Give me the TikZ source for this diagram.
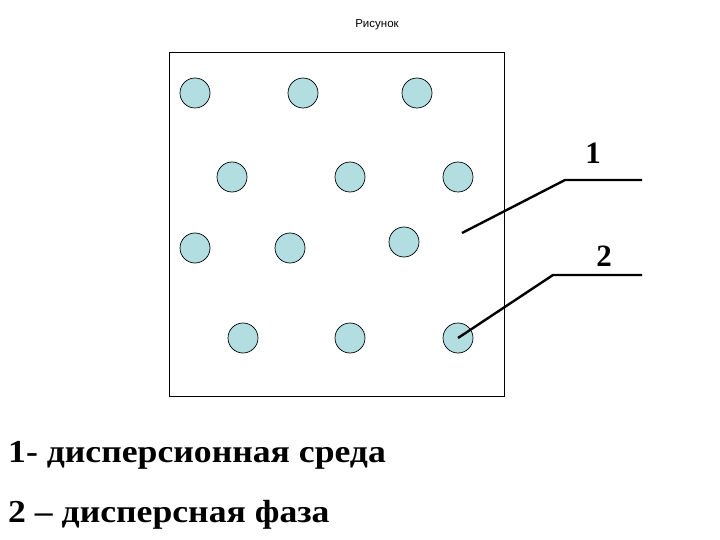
\documentclass[tikz,border=0pt]{standalone}
\usepackage{graphicx}
\usepackage{fontspec}
\setmainfont{Liberation Serif}
\newfontfamily\sansf{Liberation Sans}
\definecolor{drop}{RGB}{178,222,226}
\begin{document}
\begin{tikzpicture}[x=1pt,y=-1pt,
  drop/.style={circle,draw=black,line width=0.7pt,fill=drop,minimum size=30pt,inner sep=0pt},
  leader/.style={line width=2.4pt},
  num/.style={font=\fontsize{31}{31}\selectfont\bfseries,inner sep=0pt},
  legend/.style={font=\fontsize{32}{32}\selectfont\bfseries,inner sep=0pt,anchor=base west}]
\useasboundingbox (0,0) rectangle (720,540);
\node[font=\sansf\fontsize{11.5}{13}\selectfont,inner sep=0pt] (title) at (377,25) {Рисунок};
\node[draw=black,line width=1pt,minimum width=335pt,minimum height=343pt,inner sep=0pt] (box) at (336.5,224.5) {};
\node[drop] (c11) at (195,93) {};
\node[drop] (c12) at (303,93) {};
\node[drop] (c13) at (417,93) {};
\node[drop] (c21) at (232,177) {};
\node[drop] (c22) at (350,177) {};
\node[drop] (c23) at (458,177) {};
\node[drop] (c31) at (195,248) {};
\node[drop] (c32) at (290,248) {};
\node[drop] (c33) at (404,242) {};
\node[drop] (c41) at (243,338) {};
\node[drop] (c42) at (350,338) {};
\node[drop] (c43) at (458,338) {};
\coordinate (m1) at (462,233);
\coordinate (b1) at (565,180);
\coordinate (e1) at (642,180);
\coordinate (b2) at (553,275);
\coordinate (e2) at (642,275);
\node[num] (n1) at (593,153) {1};
\node[num] (n2) at (604,256) {2};
\draw[leader] (m1) -- (b1) -- (e1);
\draw[leader] (c43.center) -- (b2) -- (e2);
\node[legend] (l1) at (8,462) {\scalebox{1.115}[1]{1- дисперсионная среда}};
\node[legend] (l2) at (8,522) {\scalebox{1.115}[1]{2 – дисперсная фаза}};
\end{tikzpicture}
\end{document}
